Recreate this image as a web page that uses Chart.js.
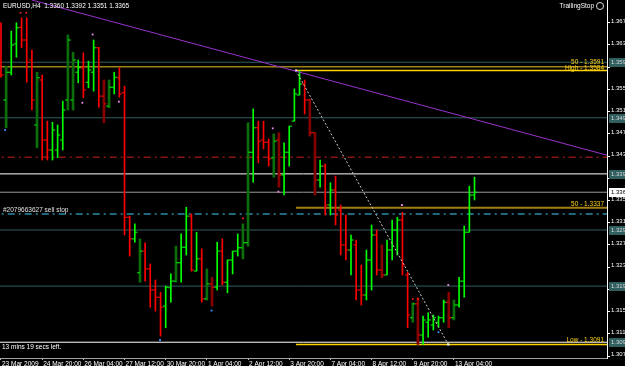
<!DOCTYPE html>
<html>
<head>
<meta charset="utf-8">
<script src="https://cdn.jsdelivr.net/npm/chart.js@4.4.1/dist/chart.umd.min.js"></script>
<style>
  html, body { margin: 0; padding: 0; background: #000; overflow: hidden; }
  canvas { display: block; }
</style>
</head>
<body>
<canvas id="chart" width="625" height="366"></canvas>
<script>
// EURUSD H4 bars, index 0 = 23 Mar 2009 12:00
const opens = [1.3661,1.3531,1.3581,1.3632,1.3662,1.3639,1.3603,1.3486,1.3567,1.3459,
  1.3441,1.3441,1.3459,1.3531,1.3531,1.3581,1.3589,1.3563,1.3581,1.3625,
  1.3538,1.3520,1.3554,1.3571,1.3544,1.3320,1.3281,1.3220,1.3259,1.3227,
  1.3189,1.3176,1.3160,1.3193,1.3205,1.3238,1.3266,1.3322,1.3223,1.3245,
  1.3173,1.3200,1.3194,1.3259,1.3203,1.3243,1.3259,1.3265,1.3274,1.3437,
  1.3481,1.3459,1.3455,1.3427,1.3459,1.3396,1.3437,1.3493,1.3540,1.3560,
  1.3531,1.3472,1.3387,1.3412,1.3342,1.3369,1.3333,1.3270,1.3261,1.3270,
  1.3189,1.3180,1.3243,1.3288,1.3225,1.3216,1.3261,1.3297,1.3315,1.3216,
  1.3139,1.3164,1.3108,1.3131,1.3126,1.3131,1.3139,1.3167,1.3139,1.3162,
  1.3205,1.3293,1.3360];
const highs = [1.3670,1.3592,1.3655,1.3670,1.3679,1.3679,1.3621,1.3581,1.3576,1.3493,
  1.3491,1.3486,1.3529,1.3648,1.3617,1.3603,1.3616,1.3601,1.3639,1.3626,
  1.3567,1.3567,1.3581,1.3589,1.3556,1.3322,1.3308,1.3281,1.3274,1.3236,
  1.3207,1.3185,1.3196,1.3218,1.3268,1.3290,1.3338,1.3326,1.3293,1.3263,
  1.3227,1.3212,1.3275,1.3281,1.3243,1.3259,1.3290,1.3308,1.3490,1.3515,
  1.3493,1.3493,1.3461,1.3470,1.3472,1.3454,1.3484,1.3551,1.3584,1.3567,
  1.3533,1.3472,1.3423,1.3416,1.3382,1.3394,1.3342,1.3324,1.3288,1.3279,
  1.3234,1.3261,1.3306,1.3297,1.3270,1.3279,1.3315,1.3320,1.3329,1.3221,
  1.3166,1.3175,1.3142,1.3148,1.3144,1.3142,1.3171,1.3185,1.3171,1.3212,
  1.3304,1.3376,1.3392];
const lows = [1.3572,1.3481,1.3576,1.3608,1.3625,1.3563,1.3513,1.3445,1.3423,1.3423,
  1.3423,1.3427,1.3441,1.3513,1.3513,1.3562,1.3535,1.3553,1.3547,1.3518,
  1.3490,1.3517,1.3542,1.3536,1.3288,1.3250,1.3275,1.3203,1.3205,1.3158,
  1.3151,1.3106,1.3121,1.3167,1.3203,1.3203,1.3252,1.3223,1.3223,1.3167,
  1.3171,1.3160,1.3189,1.3198,1.3184,1.3218,1.3250,1.3245,1.3268,1.3383,
  1.3418,1.3443,1.3412,1.3392,1.3374,1.3360,1.3412,1.3493,1.3540,1.3506,
  1.3466,1.3360,1.3374,1.3324,1.3324,1.3306,1.3252,1.3243,1.3216,1.3171,
  1.3162,1.3171,1.3189,1.3216,1.3211,1.3216,1.3243,1.3252,1.3216,1.3121,
  1.3131,1.3091,1.3091,1.3104,1.3117,1.3122,1.3131,1.3121,1.3135,1.3158,
  1.3176,1.3293,1.3351];
const closes = [1.3576,1.3581,1.3630,1.3661,1.3639,1.3599,1.3531,1.3571,1.3459,1.3441,
  1.3477,1.3468,1.3513,1.3639,1.3603,1.3589,1.3549,1.3585,1.3625,1.3538,
  1.3524,1.3554,1.3572,1.3542,1.3320,1.3281,1.3293,1.3259,1.3227,1.3189,
  1.3176,1.3158,1.3194,1.3205,1.3238,1.3266,1.3322,1.3225,1.3245,1.3173,
  1.3200,1.3194,1.3259,1.3203,1.3243,1.3259,1.3265,1.3274,1.3437,1.3481,
  1.3457,1.3455,1.3425,1.3457,1.3396,1.3437,1.3484,1.3542,1.3560,1.3531,
  1.3472,1.3387,1.3412,1.3342,1.3369,1.3324,1.3270,1.3261,1.3279,1.3189,
  1.3180,1.3243,1.3288,1.3225,1.3216,1.3261,1.3297,1.3315,1.3234,1.3144,
  1.3164,1.3108,1.3135,1.3135,1.3139,1.3139,1.3167,1.3139,1.3162,1.3205,
  1.3293,1.3360,1.3365];
// g = green bar, r = red bar, G / R = dark (wide) bars
const barKinds = ['r','G','g','g','r','r','r','G','r','r',
  'g','g','g','G','G','g','r','g','g','r',
  'R','G','g','r','r','r','g','G','r','r',
  'r','r','g','g','G','g','g','r','g','r',
  'G','R','g','r','g','g','g','G','G','g',
  'r','r','r','G','R','g','g','g','g','r',
  'R','R','g','r','g','r','r','r','g','r',
  'r','g','g','r','R','g','g','g','r','r',
  'G','R','g','g','g','g','g','R','G','g',
  'g','g','g'];

const timeTickIndex = [0, 8, 16, 24, 32, 40, 48, 56, 64, 72, 80, 88];
const timeTickLabels = ['23 Mar 2009', '24 Mar 20:00', '26 Mar 04:00', '27 Mar 12:00', '30 Mar 20:00',
  '1 Apr 04:00', '2 Apr 12:00', '3 Apr 20:00', '7 Apr 04:00', '8 Apr 12:00', '9 Apr 20:00', '13 Apr 04:00'];
const priceTicks = [1.307, 1.311, 1.315, 1.319, 1.323, 1.327, 1.331, 1.335, 1.339,
  1.343, 1.347, 1.351, 1.355, 1.359, 1.363, 1.367];

const pivotLevels = [1.3599, 1.3499, 1.3297, 1.3196];
const whiteLevels = [1.3398, 1.3095];
const redLevel = 1.3428;
const sellStopLevel = 1.3326;
const sellStopTicket = '#2079663627 sell stop';
const bidPrice = 1.3365;
const oldFibMid = 1.3591;
const fibHigh = 1.3584;
const fibMid = 1.3337;
const fibLow = 1.3091;
const fibStart = 57.3;
const trendLine = [{x: 6, y: 1.3711}, {x: 118, y: 1.3431}];
const swingLine = [{x: 57.3, y: 1.3584}, {x: 86.9, y: 1.3091}];
const pinkMarks = [{x: 15.8, y: 1.3526}, {x: 17.8, y: 1.3649}, {x: 22.9, y: 1.3528}, {x: 52.8, y: 1.3480},
  {x: 53.9, y: 1.3366}, {x: 77.9, y: 1.3342}, {x: 86.9, y: 1.3198}];
const blueMarks = [{x: 0.8, y: 1.3477}, {x: 30.9, y: 1.3099}, {x: 40.9, y: 1.3152}, {x: 85, y: 1.3113}];
const redMarks = [{x: 3.8, y: 1.3688}, {x: 4.9, y: 1.3688}, {x: 80, y: 1.3173}, {x: 81, y: 1.3173}, {x: 47, y: 1.3318}];

const kindColor = {g: '#00ff00', r: '#ff0000', G: '#0b6e0b', R: '#870000'};
const tickColor = {g: '#00ff00', r: '#ff0000', G: '#00ff00', R: '#ff0000'};
const FONT = '"Liberation Sans", Arial, sans-serif';
const FONT_SIZE = 6.5;

function levelLine(p, color, width, dash, from) {
  return {
    type: 'line', order: 20,
    data: [{x: from === undefined ? -2 : from, y: p}, {x: 120, y: p}],
    borderColor: color, borderWidth: width, borderDash: dash || [],
    pointRadius: 0, fill: false
  };
}

const datasets = [];
['G', 'R', 'g', 'r'].forEach(kind => {
  const pts = [];
  barKinds.forEach((k, i) => { if (k === kind) pts.push({x: i, y: [lows[i], highs[i]]}); });
  datasets.push({
    type: 'bar', order: 5, data: pts, grouped: false,
    backgroundColor: kindColor[kind], borderWidth: 0,
    barThickness: (kind === 'G' || kind === 'R') ? 2 : 1
  });
});
datasets.push({
  type: 'line', order: 4, showLine: false,
  data: opens.map((v, i) => ({x: i - 0.3, y: v})),
  pointStyle: 'line', pointRadius: 1.2, pointBorderWidth: 1,
  pointBorderColor: barKinds.map(k => tickColor[k])
});
datasets.push({
  type: 'line', order: 4, showLine: false,
  data: closes.map((v, i) => ({x: i + 0.3, y: v})),
  pointStyle: 'line', pointRadius: 1.2, pointBorderWidth: 1,
  pointBorderColor: barKinds.map(k => tickColor[k])
});
pivotLevels.forEach(p => datasets.push(levelLine(p, '#2f5f5f', 1)));
whiteLevels.forEach(p => datasets.push(levelLine(p, '#ffffff', 1)));
datasets.push(levelLine(redLevel, '#8b1414', 1.5, [7, 4, 2, 4]));
datasets.push(levelLine(sellStopLevel, '#2a8aa8', 1.5, [7, 4, 2, 4]));
datasets.push(levelLine(bidPrice, '#9a9a9a', 1));
datasets.push(levelLine(oldFibMid, '#9c8418', 1.5));
datasets.push(levelLine(fibHigh, '#ffd200', 1.5, [], fibStart));
datasets.push(levelLine(fibMid, '#a08012', 2, [], fibStart));
datasets.push(levelLine(fibLow, '#ffd200', 1.5, [], fibStart));
datasets.push({
  type: 'line', order: 2, data: trendLine, borderColor: '#9932cc', borderWidth: 1, pointRadius: 0
});
datasets.push({
  type: 'line', order: 2, data: swingLine, borderColor: '#c8c8c8', borderWidth: 1, borderDash: [2, 2],
  pointStyle: 'rect', pointRadius: 1.5, pointBackgroundColor: '#ffffff', pointBorderWidth: 0
});
datasets.push({type: 'line', order: 1, showLine: false, data: pinkMarks, pointStyle: 'rect',
  pointRadius: 1.3, pointBackgroundColor: '#e58ae5', pointBorderWidth: 0});
datasets.push({type: 'line', order: 1, showLine: false, data: blueMarks, pointStyle: 'rect',
  pointRadius: 1.3, pointBackgroundColor: '#3a8fff', pointBorderWidth: 0});
datasets.push({type: 'line', order: 1, showLine: false, data: redMarks, pointStyle: 'rect',
  pointRadius: 1.2, pointBackgroundColor: '#ff2020', pointBorderWidth: 0});

function priceBox(ctx, scaleY, area, p, bg, fg) {
  const py = Math.round(scaleY.getPixelForValue(p));
  ctx.fillStyle = bg;
  ctx.fillRect(area.right + 2, py - 4, 30, 9);
  ctx.fillStyle = fg;
  ctx.textAlign = 'left';
  ctx.textBaseline = 'middle';
  ctx.fillText(p.toFixed(4), area.right + 4, py);
}

// the axes must not add any padding around the plot
function noPadding(s) {
  s.paddingTop = 0; s.paddingBottom = 0; s.paddingLeft = 0; s.paddingRight = 0;
}

const overlay = {
  id: 'overlay',
  beforeDraw(chart) {
    const ctx = chart.ctx;
    ctx.save();
    ctx.fillStyle = '#000';
    ctx.fillRect(0, 0, chart.width, chart.height);
    ctx.restore();
  },
  afterDraw(chart) {
    const {ctx, chartArea: a} = chart;
    const sy = chart.scales.y;
    const last = opens.length - 1;
    ctx.save();
    ctx.font = FONT_SIZE + 'px ' + FONT;
    ctx.textBaseline = 'middle';
    ctx.textAlign = 'left';
    ctx.fillStyle = '#ffffff';
    ctx.fillText('EURUSD,H4  ' + [opens[last], highs[last], lows[last], closes[last]].map(v => v.toFixed(4)).join(' '), a.left + 3, a.top + 6);
    ctx.textAlign = 'right';
    ctx.fillText('TrailingStop', a.right - 13, a.top + 6);
    ctx.strokeStyle = '#dddddd';
    ctx.lineWidth = 1;
    ctx.beginPath();
    ctx.arc(a.right - 7, a.top + 6, 3.5, 0, Math.PI * 2);
    ctx.stroke();

    ctx.textAlign = 'left';
    ctx.fillStyle = '#e0e0e0';
    ctx.fillText(sellStopTicket, a.left + 3, sy.getPixelForValue(sellStopLevel) - 4);
    ctx.fillStyle = '#ffffff';
    ctx.fillText('13 mins 19 secs left.', a.left + 2, sy.getPixelForValue(whiteLevels[1]) + 5);

    ctx.textAlign = 'right';
    ctx.fillStyle = '#ffd21a';
    ctx.fillText('50 - ' + oldFibMid.toFixed(4), a.right - 3, sy.getPixelForValue(oldFibMid) - 4);
    ctx.fillText('High - ' + fibHigh.toFixed(4), a.right - 3, sy.getPixelForValue(fibHigh) - 2);
    ctx.fillText('50 - ' + fibMid.toFixed(4), a.right - 3, sy.getPixelForValue(fibMid) - 4);
    ctx.fillText('Low - ' + fibLow.toFixed(4), a.right - 3, sy.getPixelForValue(fibLow) - 4);

    ctx.font = '6px ' + FONT;
    pivotLevels.concat(whiteLevels).forEach(p => priceBox(ctx, sy, a, p, '#2f5f5f', '#d8d8d8'));
    priceBox(ctx, sy, a, bidPrice, '#ffffff', '#000000');
    ctx.restore();
  }
};

new Chart(document.getElementById('chart'), {
  type: 'bar',
  data: {datasets: datasets},
  plugins: [overlay],
  options: {
    responsive: false, animation: false, events: [],
    layout: {padding: 0, autoPadding: false},
    plugins: {legend: {display: false}, tooltip: {enabled: false}, title: {display: false}},
    scales: {
      x: {
        type: 'linear', offset: false, min: -0.194, max: 117.74,
        afterFit: s => { s.height = 8; noPadding(s); },
        afterBuildTicks: s => { s.ticks = timeTickIndex.map(v => ({value: v})); },
        grid: {drawOnChartArea: false, offset: false, tickLength: 2, color: '#c0c0c0'},
        border: {display: true, color: '#a0a0a0', width: 1},
        ticks: {
          autoSkip: false, maxRotation: 0, align: 'start', padding: 0, labelOffset: 1,
          color: '#ffffff', font: {family: FONT, size: FONT_SIZE},
          callback: (v, i) => timeTickLabels[i]
        }
      },
      y: {
        type: 'linear', position: 'right', min: 1.30666, max: 1.3711,
        afterFit: s => { s.width = 18; noPadding(s); },
        afterBuildTicks: s => { s.ticks = priceTicks.map(v => ({value: v})); },
        grid: {drawOnChartArea: false, tickLength: 3, color: '#ffffff'},
        border: {display: true, color: '#ffffff', width: 1},
        ticks: {
          padding: 1, labelOffset: -1.5, color: '#ffffff', font: {family: FONT, size: 6},
          callback: v => v.toFixed(4)
        }
      }
    }
  }
});
</script>
</body>
</html>
